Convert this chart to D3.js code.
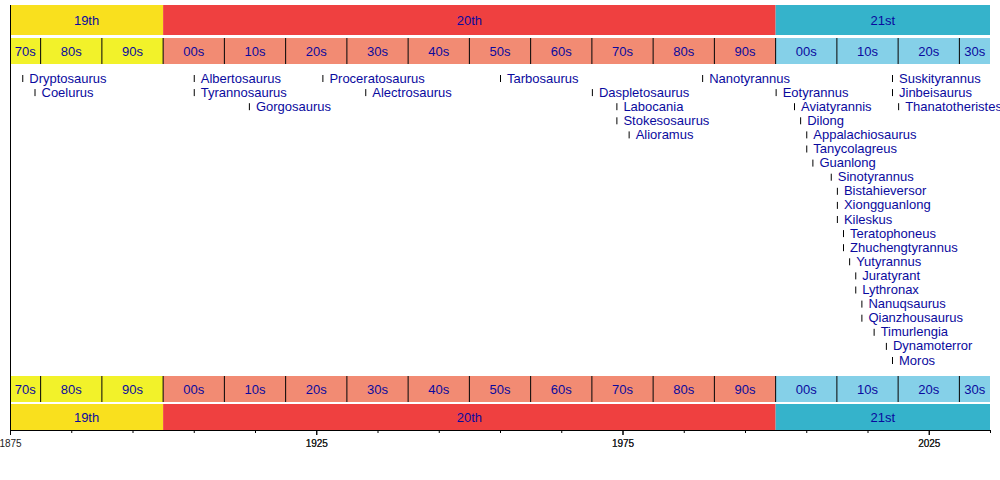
<!DOCTYPE html>
<html lang="en">
<head>
<meta charset="UTF-8">
<title>Tyrannosauroid discoveries timeline</title>
<script src="https://d3js.org/d3.v7.min.js"></script>
<style>body{margin:0;background:#fff;font-family:"Liberation Sans",Arial,sans-serif}</style>
</head>
<body>
<script>
// Data
const names = ['Dryptosaurus','Coelurus','Albertosaurus','Tyrannosaurus','Gorgosaurus','Proceratosaurus',
  'Alectrosaurus','Tarbosaurus','Daspletosaurus','Labocania','Stokesosaurus','Alioramus','Nanotyrannus',
  'Eotyrannus','Aviatyrannis','Dilong','Appalachiosaurus','Tanycolagreus','Guanlong','Sinotyrannus',
  'Bistahieversor','Xiongguanlong','Kileskus','Teratophoneus','Zhuchengtyrannus','Yutyrannus','Juratyrant',
  'Lythronax','Nanuqsaurus','Qianzhousaurus','Timurlengia','Dynamoterror','Moros',
  'Suskityrannus','Jinbeisaurus','Thanatotheristes'];
const years = [1877,1879,1905,1905,1914,1926,1933,1955,1970,1974,1974,1976,1988,
  2000,2003,2004,2005,2005,2006,2009,2010,2010,2010,2011,2011,2012,2013,2013,2014,2014,2016,2018,2019,
  2019,2019,2020];
const lanes = [0,1,0,1,2,0,1,0,1,2,3,4,0,
  1,2,3,4,5,6,7,8,9,10,11,12,13,14,15,16,17,18,19,20,
  0,1,2];
const centuries = [{label:'19th',start:1875,end:1900},{label:'20th',start:1900,end:2000},{label:'21st',start:2000,end:2035}];
const centuryColors = ['#f9e01e','#ef4040','#35b3cb'];
const decadeColors = ['#f2f22a','#f28b73','#85d0e8'];
const decadeStarts = d3.range(1870, 2035, 10);

const width = 1000, height = 480;
const svg = d3.select('body').append('svg').attr('width', width).attr('height', height);
const x = d3.scaleLinear().domain([1875, 2035]).range([10, 990]);
const cIdx = y => y < 1900 ? 0 : (y < 2000 ? 1 : 2);
const textColor = '#0a0a9e';

const decades = decadeStarts.map(s => ({start: Math.max(s, 1875), end: Math.min(s + 10, 2035),
  label: String(s % 100).padStart(2, '0') + 's', c: cIdx(s)}));

function drawBands(cy, ch, dy, dh) {
  svg.selectAll(null).data(centuries).enter().append('rect')
    .attr('x', d => x(d.start)).attr('y', cy).attr('width', d => x(d.end) - x(d.start)).attr('height', ch)
    .attr('fill', (d, i) => centuryColors[i]);
  svg.selectAll(null).data(centuries).enter().append('text')
    .attr('x', d => (x(d.start) + x(d.end)) / 2).attr('y', cy + ch / 2 + 4.5)
    .attr('text-anchor', 'middle').attr('font-size', 13).attr('fill', textColor).text(d => d.label);
  svg.selectAll(null).data(decades).enter().append('rect')
    .attr('x', d => x(d.start)).attr('y', dy).attr('width', d => x(d.end) - x(d.start)).attr('height', dh)
    .attr('fill', d => decadeColors[d.c]);
  svg.selectAll(null).data(decades.slice(1)).enter().append('line')
    .attr('x1', d => x(d.start)).attr('x2', d => x(d.start)).attr('y1', dy).attr('y2', dy + dh)
    .attr('stroke', '#000').attr('stroke-width', 1);
  svg.selectAll(null).data(decades).enter().append('text')
    .attr('x', d => (x(d.start) + x(d.end)) / 2).attr('y', dy + dh / 2 + 4.5)
    .attr('text-anchor', 'middle').attr('font-size', 13).attr('fill', textColor).text(d => d.label);
}
drawBands(5, 30, 38, 26);
drawBands(404, 26, 376, 26);

// left border
svg.append('line').attr('x1', 10.5).attr('x2', 10.5).attr('y1', 5).attr('y2', 430).attr('stroke', '#000');

// axis
const axis = svg.append('g').attr('transform', 'translate(0,430)')
  .call(d3.axisBottom(x).tickValues(d3.range(1875, 2036, 10).concat([1925,1975,2025]).filter(v=>v<=2035))
    .tickSize(3).tickFormat(d => (d - 1875) % 50 === 0 ? d : ''));
axis.select('.domain').attr('stroke', '#000');
axis.selectAll('.tick line').attr('y2', d => (d - 1875) % 50 === 0 ? 5 : 3);
axis.selectAll('text').attr('font-size', 10).attr('font-weight', 'normal')
  .attr('font-family', '"Liberation Sans",Arial,sans-serif').attr('fill', '#222').attr('dy', '1.1em');

// entries
const rowY = l => 78 + l * 14.1;
const entries = names.map((n, i) => ({name: n, year: years[i], lane: lanes[i]}));
const g = svg.selectAll(null).data(entries).enter().append('g');
g.append('line').attr('x1', d => x(d.year) + 0.5).attr('x2', d => x(d.year) + 0.5)
  .attr('y1', d => rowY(d.lane) - 3).attr('y2', d => rowY(d.lane) + 4).attr('stroke', '#000');
g.append('text').attr('x', d => x(d.year) + 7).attr('y', d => rowY(d.lane) + 4.5)
  .attr('font-size', 13).attr('fill', textColor).text(d => d.name);
</script>
</body>
</html>
